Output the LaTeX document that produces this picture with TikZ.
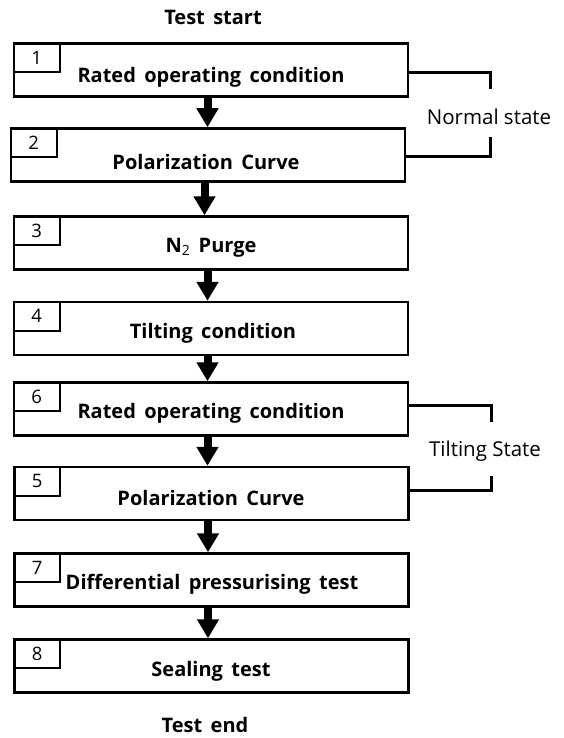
\documentclass[tikz,border=0pt]{standalone}
\usepackage{fontspec}
\setmainfont{Open Sans}
\usetikzlibrary{arrows.meta}
\newcommand\lblfont{\fontsize{20}{24}\selectfont\bfseries\spaceskip 0.42em\relax}
\begin{document}
\begin{tikzpicture}[x=1pt,y=-1pt,
  box/.style={draw,line width=2.5pt,minimum width=394pt,minimum height=53pt,inner sep=0pt},
  numbox/.style={draw,line width=1.8pt,minimum width=46pt,minimum height=29pt,inner sep=0pt,anchor=north west,font=\fontsize{18.5}{22}\selectfont},
  lbl/.style={inner sep=0pt,font=\lblfont},
  side/.style={inner sep=0pt,font=\fontsize{20.5}{24}\selectfont},
  flow/.style={line width=8pt,-{Triangle[length=19pt,width=21pt]}},
  brk/.style={line width=3pt}]
\useasboundingbox (0,0) rectangle (563,738);
\fill[white] (0,0) rectangle (563,738);
% top/bottom labels
\node[lbl] (ts) at (213,17) {Test start};
\node[lbl] (te) at (205,725) {Test end};
% boxes
\node[box] (b1) at (211,70) {};
\node[box] (b2) at (208,155) {};
\node[box] (b3) at (211,243) {};
\node[box] (b4) at (211,328.5) {};
\node[box] (b6) at (211,409) {};
\node[box] (b5) at (211.5,493.5) {};
\node[box] (b7) at (211.5,580) {};
\node[box] (b8) at (211.5,666) {};
% number boxes
\node[numbox] (n1) at (b1.north west) {1};
\node[numbox] (n2) at (b2.north west) {2};
\node[numbox] (n3) at (b3.north west) {3};
\node[numbox] (n4) at (b4.north west) {4};
\node[numbox] (n6) at (b6.north west) {6};
\node[numbox] (n5) at (b5.north west) {5};
\node[numbox] (n7) at (b7.north west) {7};
\node[numbox] (n8) at (b8.north west) {8};
% texts
\node[lbl] (t1) at (211,77) {Rated operating condition};
\node[lbl] (t2) at (206,162) {Polarization Curve};
\node[lbl] (t3) at (211,248) {N\textsubscript{\normalfont 2} Purge};
\node[lbl] (t4) at (213,333) {Tilting condition};
\node[lbl] (t6) at (211,413) {Rated operating condition};
\node[lbl] (t5) at (211,498) {Polarization Curve};
\node[lbl] (t7) at (212,584) {Differential pressurising test};
\node[lbl] (t8) at (211,671) {Sealing test};
% flow arrows
\foreach \a/\b in {b1/b2,b2/b3,b3/b4,b4/b6,b6/b5,b5/b7,b7/b8}
  \draw[flow] ([xshift=-3.5pt]\a.south) -- ([xshift=-3.5pt]\a.south |- \b.north);
% brackets
\coordinate (c1) at (490,73);
\coordinate (c2) at (490,89);
\coordinate (c3) at (490,137);
\coordinate (c4) at (490,157);
\draw[brk] (b1.east |- c1) -- (c1) -- (c2);
\draw[brk] (c3) -- (c4) -- (b2.east |- c4);
\node[side] (ns) at (489,117) {Normal state};
\coordinate (d1) at (491,405);
\coordinate (d2) at (491,422);
\coordinate (d3) at (491,476);
\coordinate (d4) at (491,490);
\draw[brk] (b6.east |- d1) -- (d1) -- (d2);
\draw[brk] (d3) -- (d4) -- (b5.east |- d4);
\node[side] (tsn) at (485,451) {Tilting State};
\end{tikzpicture}
\end{document}
